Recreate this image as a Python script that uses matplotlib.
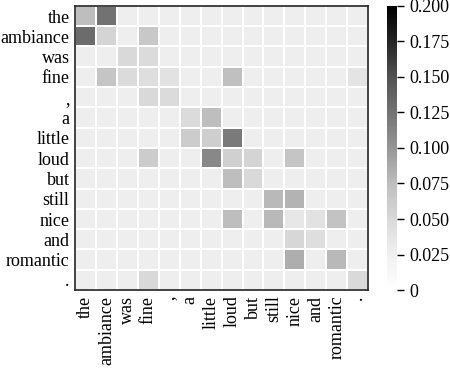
import numpy as np
import matplotlib
matplotlib.use("Agg")
import matplotlib.pyplot as plt

plt.rcParams['font.family'] = ['Liberation Serif', 'DejaVu Serif']

tokens = ["the", "ambiance", "was", "fine", ",", "a", "little", "loud",
          "but", "still", "nice", "and", "romantic", "."]

# attention weights, row = query token, col = key token
b = 0.028
weights = [
    [0.075, 0.125, b, b, b, b, b, b, b, b, b, b, b, b],
    [0.13, 0.055, b, 0.065, b, b, b, b, b, b, b, b, b, b],
    [b, b, 0.05, 0.048, b, b, b, b, b, b, b, b, b, b],
    [b, 0.068, 0.048, 0.045, 0.04, b, b, 0.072, b, b, b, b, b, 0.038],
    [b, b, b, 0.05, 0.048, b, b, b, b, b, b, b, b, b],
    [b, b, b, b, b, 0.048, 0.075, b, b, b, b, b, b, b],
    [b, b, b, b, b, 0.062, 0.06, 0.12, b, b, b, b, b, b],
    [b, b, b, 0.062, b, b, 0.11, 0.058, 0.055, b, 0.068, b, b, b],
    [b, b, b, b, b, b, b, 0.075, 0.05, b, b, b, b, b],
    [b, b, b, b, b, b, b, b, b, 0.078, 0.082, b, b, b],
    [b, b, b, b, b, b, b, 0.075, b, 0.078, 0.035, 0.04, 0.07, b],
    [b, b, b, b, b, b, b, b, b, b, 0.052, 0.045, b, b],
    [b, b, b, b, b, b, b, b, b, b, 0.085, b, 0.078, b],
    [b, b, b, 0.05, b, b, b, b, b, b, b, b, b, 0.05],
]
cbar_ticks = [0, 0.025, 0.05, 0.075, 0.1, 0.125, 0.15, 0.175, 0.2]
cbar_labels = ["0", "0.025", "0.050", "0.075", "0.100", "0.125", "0.150", "0.175", "0.200"]

data = np.array(weights)
n = len(tokens)

fig = plt.figure(figsize=(4.5, 3.69), dpi=100)
ax = fig.add_axes([0.167, 0.214, 0.651, 0.77])
cax = fig.add_axes([0.86, 0.214, 0.022, 0.77])

mesh = ax.pcolormesh(data, cmap="Greys", vmin=0, vmax=0.2,
                     edgecolors="white", linewidth=1.2)
ax.set_xlim(0, n)
ax.set_ylim(n, 0)
ax.set_xticks(np.arange(n) + 0.5)
ax.set_yticks(np.arange(n) + 0.5)
ax.set_xticklabels(tokens, rotation=90, fontsize=13)
ax.set_yticklabels(tokens, fontsize=13)
ax.tick_params(length=0, pad=4)
for s in ax.spines.values():
    s.set_linewidth(1.2)
    s.set_color("#222222")

cb = fig.colorbar(mesh, cax=cax, ticks=cbar_ticks)
cb.ax.set_yticklabels(cbar_labels, fontsize=13)
cb.outline.set_visible(False)
cb.ax.tick_params(length=5, width=1, pad=4)

fig.savefig("out.png", dpi=100)
